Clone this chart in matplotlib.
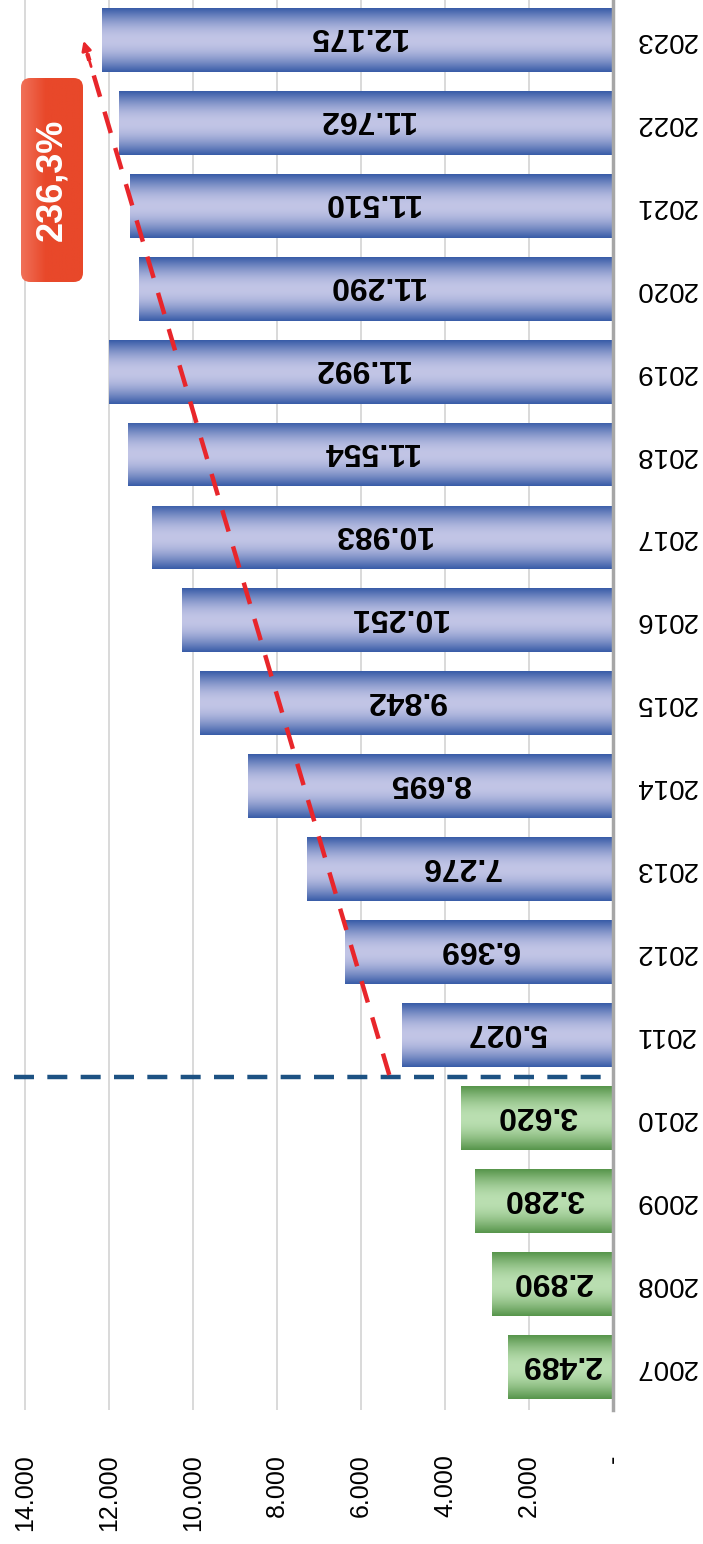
import numpy as np
import matplotlib.pyplot as plt
from matplotlib.patches import FancyBboxPatch
from matplotlib.ticker import FuncFormatter
from matplotlib.colors import to_rgb

plt.rcParams['font.family'] = ['Liberation Sans', 'DejaVu Sans']

years = [2007, 2008, 2009, 2010, 2011, 2012, 2013, 2014, 2015,
         2016, 2017, 2018, 2019, 2020, 2021, 2022, 2023]
values = [2489, 2890, 3280, 3620, 5027, 6369, 7276, 8695, 9842,
          10251, 10983, 11554, 11992, 11290, 11510, 11762, 12175]
value_labels = ["2.489", "2.890", "3.280", "3.620", "5.027", "6.369", "7.276", "8.695", "9.842",
                "10.251", "10.983", "11.554", "11.992", "11.290", "11.510", "11.762", "12.175"]
n_old = 4  # 2007-2010 in green
growth_text = "236,3%"
ticks = [0, 2000, 4000, 6000, 8000, 10000, 12000, 14000]


def gradient(dark, light, n=64, power=1.0):
    t = np.linspace(0, 1, n)
    f = np.sin(np.pi * t) ** power
    d = np.array(to_rgb(dark))
    l = np.array(to_rgb(light))
    return (d + (l - d) * f[:, None])[:, None, :]


fig = plt.figure(figsize=(7.03, 15.44), dpi=100)
ax = fig.add_axes([0, 134 / 1544, 613 / 703, 1410 / 1544])

pos = np.arange(len(years))
bars = ax.barh(pos, values, height=0.77, color='none', edgecolor='none')

blue_grad = gradient('#3a5da8', '#c2c5e6')
green_grad = gradient('#58964c', '#badfb1')
for i, p in enumerate(bars.patches):
    x0, y0 = p.get_x(), p.get_y()
    w, h = p.get_width(), p.get_height()
    g = green_grad if i < n_old else blue_grad
    im = ax.imshow(g, extent=[x0, x0 + w, y0, y0 + h], aspect='auto',
                   origin='lower', zorder=2, interpolation='bilinear')
    im.set_clip_path(p)
    ax.text(values[i] / 2, pos[i] + 0.04, value_labels[i], rotation=180, ha='center',
            va='center', fontsize=23, fontweight='bold', color='black', zorder=4)

ax.set_xlim(14595, 0)
ax.set_ylim(-0.52, len(years) - 1 + 0.48)

# separator between 2010 and 2011
ax.plot([14250, 0], [n_old - 0.5, n_old - 0.5], color='#1d5283', lw=3.2,
        dashes=(4.5, 3), zorder=3)

# growth arrow
x_start, y_start = values[n_old] + 300, n_old - 0.48
x_end, y_end = values[-1] + 450, len(years) - 1 + 0.02
ax.plot([x_start, x_start + (x_end - x_start) * 0.985],
        [y_start, y_start + (y_end - y_start) * 0.985],
        color='#e8262b', lw=3.2, dashes=(5, 3.5), zorder=5)
ax.annotate('', xy=(x_end, y_end),
            xytext=(x_start + (x_end - x_start) * 0.97, y_start + (y_end - y_start) * 0.97),
            arrowprops=dict(arrowstyle='-|>', color='#e8262b', lw=2,
                            mutation_scale=14), zorder=5)

ax.set_xticks(ticks)
ax.xaxis.set_major_formatter(FuncFormatter(
    lambda v, p: '-' if v == 0 else f"{v:,.0f}".replace(",", ".")))
ax.tick_params(axis='x', length=0, pad=32, labelsize=18, labelrotation=90)
for lab in ax.get_xticklabels():
    lab.set_va('top')
    lab.set_ha('center')
ax.grid(axis='x', color='#d9d9d9', lw=1.4, zorder=0)
ax.set_axisbelow(True)

ax.set_yticks(pos)
ax.set_yticklabels([str(y) for y in years])
ax.yaxis.tick_right()
ax.tick_params(axis='y', length=0, pad=16, labelsize=20)
for lab in ax.get_yticklabels():
    lab.set_rotation(180)
    lab.set_ha('left')
    lab.set_va('center')

for s in ['top', 'left', 'bottom']:
    ax.spines[s].set_visible(False)
ax.spines['right'].set_color('#a6a6a6')
ax.spines['right'].set_linewidth(2.5)

# growth badge
bax = fig.add_axes([21 / 703, 1 - 282 / 1544, 62 / 703, 204 / 1544])
bax.set_xlim(0, 1)
bax.set_ylim(0, 1)
bax.axis('off')
box = FancyBboxPatch((0, 0), 1, 1, boxstyle='round,pad=0,rounding_size=0.15',
                     mutation_aspect=62 / 204, transform=bax.transAxes,
                     fc='none', ec='none')
bax.add_patch(box)
cg = np.linspace(0, 1, 64)
c0 = np.array(to_rgb('#f07058'))
c1 = np.array(to_rgb('#e8482a'))
row = c0 + (c1 - c0) * np.clip(cg * 2.5, 0, 1)[:, None]
bim = bax.imshow(row[None, :, :], extent=[0, 1, 0, 1], aspect='auto')
bim.set_clip_path(box)
bax.text(0.5, 0.5, growth_text, rotation=90, ha='center', va='center',
         color='white', fontsize=26, fontweight='bold')

fig.savefig('out.png', dpi=100)
